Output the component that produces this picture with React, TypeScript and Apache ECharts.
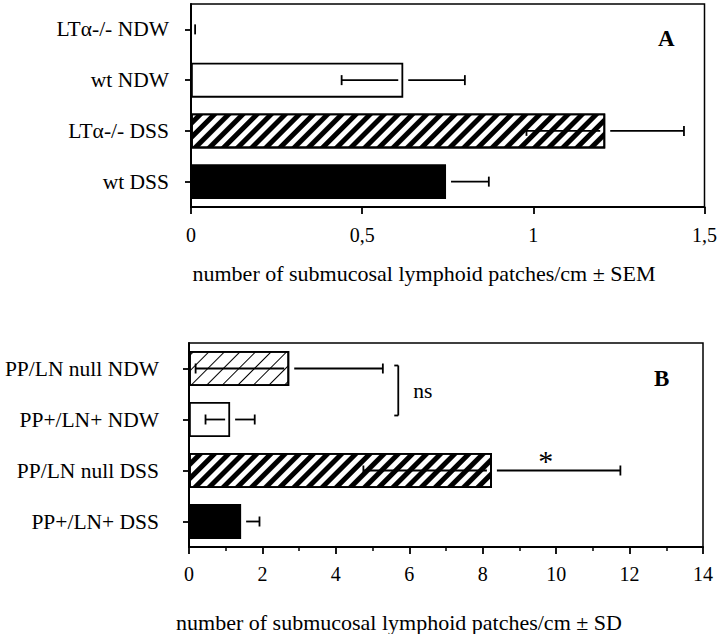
import React, { useEffect, useRef } from "react";
import * as echarts from "echarts";

// ---- Data ----
const categoriesA = ["LTα-/- NDW", "wt NDW", "LTα-/- DSS", "wt DSS"];
const meansA = [0, 0.62, 1.21, 0.745];
const semA = [0.012, 0.18, 0.23, 0.125];
const ticksA = [0, 0.5, 1, 1.5];

const categoriesB = ["PP/LN null NDW", "PP+/LN+ NDW", "PP/LN null DSS", "PP+/LN+ DSS"];
const meansB = [2.73, 1.12, 8.25, 1.42];
const sdB = [2.55, 0.67, 3.5, 0.5];
const ticksB = [0, 2, 4, 6, 8, 10, 12, 14];

// fill kinds per bar (style, not data)
const fillsA = ["white", "white", "hatch", "black"];
const fillsB = ["light", "white", "hatch", "black"];

const FONT = "Liberation Serif";

function itemStyleFor(kind: string) {
  const base: any = { borderColor: "#000", borderWidth: 1.8 };
  if (kind === "black") return { ...base, color: "#000" };
  if (kind === "white") return { ...base, color: "#fff" };
  if (kind === "hatch")
    return {
      ...base,
      color: "#fff",
      decal: {
        symbol: "rect",
        symbolSize: 1,
        dashArrayX: [1, 0],
        dashArrayY: [4.5, 4.8],
        rotation: -Math.PI / 4,
        color: "#000",
        backgroundColor: "#fff",
      },
    };
  return {
    ...base,
    color: "#fff",
    decal: {
      symbol: "rect",
      symbolSize: 1,
      dashArrayX: [1, 0],
      dashArrayY: [1, 9.6],
      rotation: -Math.PI / 4,
      color: "#000",
      backgroundColor: "#fff",
    },
  };
}

function errRender(params: any, api: any) {
  const mean = api.value(0);
  const cat = api.value(1);
  const err = api.value(2);
  const pm = api.coord([mean, cat]);
  const pu = api.coord([mean + err, cat]);
  const pl = api.coord([Math.max(mean - err, 0), cat]);
  const gap = 5;
  const cap = 5;
  const st = { stroke: "#000", lineWidth: 1.8 };
  const children: any[] = [];
  const startX = Math.min(pm[0] + gap, pu[0]);
  children.push({ type: "line", shape: { x1: startX, y1: pm[1], x2: pu[0], y2: pm[1] }, style: st });
  children.push({ type: "line", shape: { x1: pu[0], y1: pm[1] - cap, x2: pu[0], y2: pm[1] + cap }, style: st });
  if (pm[0] - pl[0] > gap) {
    children.push({ type: "line", shape: { x1: pl[0], y1: pm[1], x2: pm[0] - gap, y2: pm[1] }, style: st });
    children.push({ type: "line", shape: { x1: pl[0], y1: pm[1] - cap, x2: pl[0], y2: pm[1] + cap }, style: st });
  }
  return { type: "group", children };
}

const fmt = (v: number) => String(v).replace(".", ",");

export default function App() {
  const ref = useRef<HTMLDivElement>(null);
  useEffect(() => {
    if (!ref.current) return;
    const chart = echarts.init(ref.current, undefined, { renderer: "svg" });
    const axisLabelBase = { color: "#000", fontFamily: FONT };
    const option: any = {
      animation: false,
      backgroundColor: "#fff",
      textStyle: { fontFamily: FONT },
      grid: [
        { left: 191, top: 4, width: 520, height: 203, show: true, borderColor: "#000", borderWidth: 1.5, backgroundColor: "transparent" },
        { left: 189, top: 343, width: 514, height: 204, show: true, borderColor: "#000", borderWidth: 1.5, backgroundColor: "transparent" },
      ],
      xAxis: [
        {
          gridIndex: 0,
          type: "value",
          min: ticksA[0],
          max: ticksA[ticksA.length - 1],
          interval: 0.5,
          splitLine: { show: false },
          axisLine: { show: true, lineStyle: { color: "#000", width: 2 } },
          axisTick: { show: true, length: 7, lineStyle: { color: "#000", width: 1.8 } },
          axisLabel: { ...axisLabelBase, fontSize: 20, margin: 18, formatter: fmt },
        },
        {
          gridIndex: 1,
          type: "value",
          min: ticksB[0],
          max: ticksB[ticksB.length - 1],
          interval: 2,
          splitLine: { show: false },
          axisLine: { show: true, lineStyle: { color: "#000", width: 2 } },
          axisTick: { show: true, length: 7, lineStyle: { color: "#000", width: 1.8 } },
          minorTick: { show: true, splitNumber: 2, length: 4, lineStyle: { color: "#000", width: 1.5 } },
          axisLabel: { ...axisLabelBase, fontSize: 20, margin: 17 },
        },
      ],
      yAxis: [
        {
          gridIndex: 0,
          type: "category",
          inverse: true,
          data: categoriesA,
          axisLine: { show: true, lineStyle: { color: "#000", width: 2 } },
          axisTick: { show: true, alignWithLabel: true, length: 6, lineStyle: { color: "#000", width: 1.8 } },
          axisLabel: { ...axisLabelBase, fontSize: 21.5, margin: 22 },
        },
        {
          gridIndex: 1,
          type: "category",
          inverse: true,
          data: categoriesB,
          axisLine: { show: true, lineStyle: { color: "#000", width: 2 } },
          axisTick: { show: true, alignWithLabel: true, length: 6, lineStyle: { color: "#000", width: 1.8 } },
          axisLabel: { ...axisLabelBase, fontSize: 21.5, margin: 30 },
        },
      ],
      series: [
        {
          type: "bar",
          xAxisIndex: 0,
          yAxisIndex: 0,
          barWidth: 35,
          data: meansA.map((v, i) => ({ value: v, itemStyle: itemStyleFor(fillsA[i]) })),
        },
        {
          type: "custom",
          xAxisIndex: 0,
          yAxisIndex: 0,
          z: 5,
          renderItem: errRender,
          encode: { x: 0, y: 1 },
          data: meansA.map((v, i) => [v, i, semA[i]]),
        },
        {
          type: "bar",
          xAxisIndex: 1,
          yAxisIndex: 1,
          barWidth: 35,
          data: meansB.map((v, i) => ({ value: v, itemStyle: itemStyleFor(fillsB[i]) })),
        },
        {
          type: "custom",
          xAxisIndex: 1,
          yAxisIndex: 1,
          z: 5,
          renderItem: errRender,
          encode: { x: 0, y: 1 },
          data: meansB.map((v, i) => [v, i, sdB[i]]),
        },
      ],
    };
    chart.setOption(option);

    const b0 = chart.convertToPixel({ gridIndex: 1 } as any, [5.7, 0]) as number[];
    const b1 = chart.convertToPixel({ gridIndex: 1 } as any, [5.7, 1]) as number[];
    const star = chart.convertToPixel({ gridIndex: 1 } as any, [9.72, 2]) as number[];
    const by0 = b0[1] - 3;
    const by1 = b1[1] - 4;
    const ls = { stroke: "#000", lineWidth: 1.8 };
    const txt = (text: string, size: number, weight = "normal", extra: any = {}) => ({
      text,
      fontFamily: FONT,
      fontSize: size,
      fontWeight: weight,
      fill: "#000",
      ...extra,
    });
    chart.setOption({
      graphic: [
        { type: "text", left: 658, top: 27, style: txt("A", 23, "bold") },
        { type: "text", left: 654, top: 367, style: txt("B", 23, "bold") },
        {
          type: "text",
          x: 424,
          y: 273,
          style: txt("number of submucosal lymphoid patches/cm ± SEM", 22, "normal", { align: "center", verticalAlign: "middle" }),
        },
        {
          type: "text",
          x: 399,
          y: 622,
          style: txt("number of submucosal lymphoid patches/cm ± SD", 22, "normal", { align: "center", verticalAlign: "middle" }),
        },
        { type: "line", shape: { x1: b0[0], y1: by0, x2: b0[0], y2: by1 }, style: ls },
        { type: "line", shape: { x1: b0[0] - 4, y1: by0, x2: b0[0], y2: by0 }, style: ls },
        { type: "line", shape: { x1: b0[0] - 4, y1: by1, x2: b0[0], y2: by1 }, style: ls },
        {
          type: "text",
          x: b0[0] + 15,
          y: (by0 + by1) / 2,
          style: txt("ns", 21.5, "normal", { align: "left", verticalAlign: "middle" }),
        },
        {
          type: "text",
          x: star[0],
          y: star[1] - 10,
          style: txt("*", 30, "normal", { align: "center", verticalAlign: "middle" }),
        },
      ],
    });
    return () => chart.dispose();
  }, []);
  return <div ref={ref} style={{ position: "absolute", left: 0, top: 0, width: 720, height: 634 }} />;
}
